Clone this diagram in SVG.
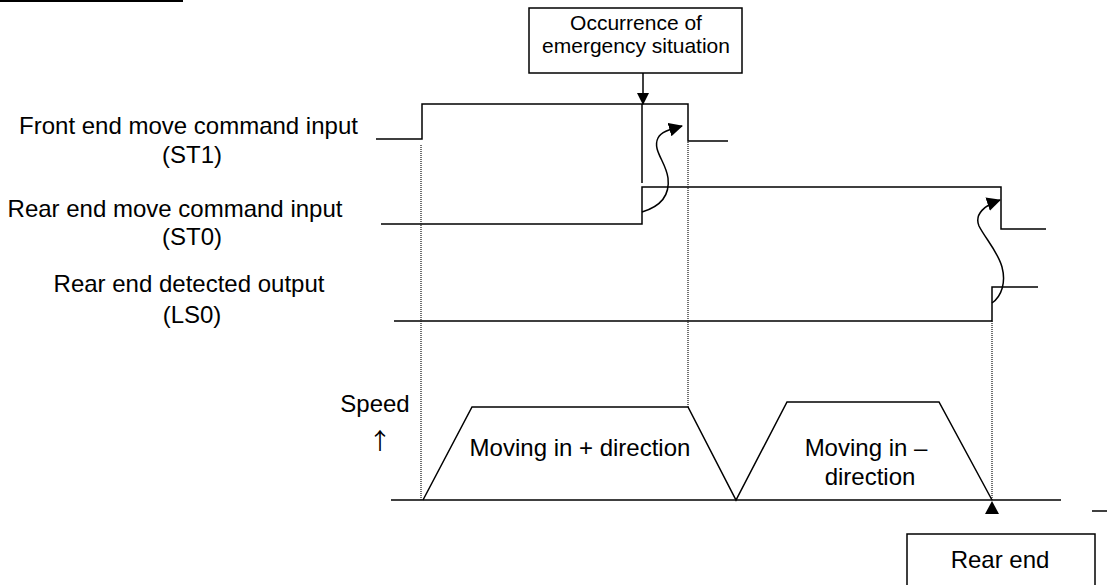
<svg xmlns="http://www.w3.org/2000/svg" width="1107" height="585" viewBox="0 0 1107 585">
<style>
text{font-family:"Liberation Sans",Arial,sans-serif;fill:#000;}
.lbl{font-size:24px;text-anchor:middle;}
.box{font-size:21px;text-anchor:middle;}
.up{font-family:"Noto Sans CJK JP","DejaVu Sans",sans-serif;font-size:23px;text-anchor:middle;}
.sig{fill:none;stroke:#000;stroke-width:1.5;}
.dot{fill:none;stroke:#111;stroke-width:1.2;stroke-dasharray:1 1;}
.frame{fill:#fff;stroke:#000;stroke-width:1.5;}
</style>
<defs>
<marker id="ah" markerUnits="userSpaceOnUse" markerWidth="14" markerHeight="14" refX="13" refY="7" orient="auto">
<path d="M0,0 L14,7 L0,14 Z" fill="#000"/>
</marker>
<marker id="ahs" markerUnits="userSpaceOnUse" markerWidth="12" markerHeight="12" refX="11" refY="6" orient="auto">
<path d="M0,0 L12,6 L0,12 Z" fill="#000"/>
</marker>
</defs>
<rect x="0" y="0" width="183" height="2" fill="#000"/>

<g id="emergency-box">
<rect class="frame" x="529" y="8" width="213" height="65"/>
<text class="box" x="636" y="30">Occurrence of</text>
<text class="box" x="636" y="53">emergency situation</text>
</g>

<g id="labels">
<text class="lbl" x="188.5" y="134">Front end move command input</text>
<text class="lbl" x="192" y="163">(ST1)</text>
<text class="lbl" x="175" y="217">Rear end move command input</text>
<text class="lbl" x="192" y="245">(ST0)</text>
<text class="lbl" x="189" y="292">Rear end detected output</text>
<text class="lbl" x="192" y="323">(LS0)</text>
<text class="lbl" x="375" y="412">Speed</text>
<text class="up" x="380" y="449">↑</text>
</g>

<g id="signals">
<path class="sig" d="M376,139 H422 V104 H688 V141 H728"/>
<path class="sig" d="M381,224 H642 V187 H1001 V229 H1046"/>
<path class="sig" d="M394,321 H992 V287 H1038"/>
<line class="sig" x1="642" y1="104" x2="642" y2="183"/>
</g>

<g id="speed">
<line class="sig" x1="391" y1="500" x2="1061" y2="500"/>
<path class="sig" d="M423,500 L472,407 H688 L736,500 L787,402 H939 L992,500"/>
<text class="lbl" x="580" y="456">Moving in + direction</text>
<text class="lbl" x="866" y="456">Moving in –</text>
<text class="lbl" x="870" y="485">direction</text>
</g>

<g id="guides">
<line class="dot" x1="421" y1="145" x2="421" y2="500"/>
<line class="dot" x1="688" y1="142" x2="688" y2="407"/>
<line class="dot" x1="992" y1="321" x2="992" y2="500"/>
</g>

<g id="connectors">
<line class="sig" x1="643" y1="73" x2="643" y2="104" marker-end="url(#ahs)"/>
<path class="sig" d="M642,212 C662,206 670,195 668,178 C666,162 652,150 658,138 C661,132 668,130 682,126" marker-end="url(#ah)"/>
<path class="sig" d="M992,303 C1002,296 1006,282 1002,267 C998,252 985,238 979,226 C974,214 985,205 1000,200" marker-end="url(#ah)"/>
<path d="M992,501 L985,514 L999,514 Z" fill="#000"/>
<line class="sig" x1="1092" y1="511" x2="1107" y2="511"/>
</g>

<g id="rear-end-box">
<rect class="frame" x="907" y="534" width="188" height="60"/>
<text class="lbl" x="1000" y="568">Rear end</text>
</g>
</svg>
